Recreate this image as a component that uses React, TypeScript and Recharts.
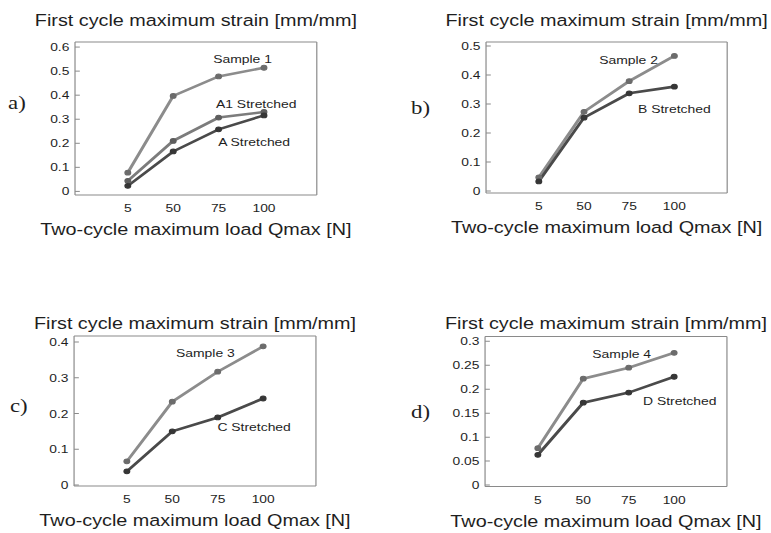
import { LineChart, Line, XAxis, YAxis, LabelList } from "recharts";

// x categories (load, N)
const loads = ["5", "50", "75", "100"];

// first cycle maximum strain [mm/mm]
const sample1 = [0.078, 0.397, 0.478, 0.514];
const a1Stretched = [0.044, 0.21, 0.307, 0.33];
const aStretched = [0.023, 0.166, 0.258, 0.316];

const sample2 = [0.047, 0.273, 0.379, 0.466];
const bStretched = [0.033, 0.253, 0.337, 0.36];

const sample3 = [0.066, 0.233, 0.317, 0.388];
const cStretched = [0.038, 0.15, 0.189, 0.242];

const sample4 = [0.077, 0.222, 0.245, 0.276];
const dStretched = [0.063, 0.172, 0.193, 0.226];

// y tick labels
const ticksA = [0, 0.1, 0.2, 0.3, 0.4, 0.5, 0.6];
const ticksB = [0, 0.1, 0.2, 0.3, 0.4, 0.5];
const ticksC = [0, 0.1, 0.2, 0.3, 0.4];
const ticksD = [0, 0.05, 0.1, 0.15, 0.2, 0.25, 0.3];
const minorB = [0, 0.02, 0.04, 0.06, 0.08, 0.1, 0.12, 0.14, 0.16, 0.18, 0.2, 0.22, 0.24, 0.26, 0.28, 0.3, 0.32, 0.34, 0.36, 0.38, 0.4, 0.42, 0.44, 0.46, 0.48, 0.5];
const minorC = [0, 0.02, 0.04, 0.06, 0.08, 0.1, 0.12, 0.14, 0.16, 0.18, 0.2, 0.22, 0.24, 0.26, 0.28, 0.3, 0.32, 0.34, 0.36, 0.38, 0.4];

const yTitle = "First cycle maximum strain [mm/mm]";
const xTitle = "Two-cycle maximum load Qmax [N]";

const sans = "'Liberation Sans', Arial, Helvetica, sans-serif";
const serif = "'Liberation Serif', 'Times New Roman', serif";
const ink = "#1e1e1e";
const frame = "#8a8a8a";
const light = "#8c8c8c";
const mid = "#7c7c7c";
const dark = "#4a4a4a";

// the source figure is stretched horizontally, so draw narrow and scale
const STRETCH = 1.2;
const XAXIS_H = 30;
const THIN = 0.01; // axes of (almost) no size, they only draw the frame and ticks

const tag = (text: string, dx: number, dy: number) => (p: any) => {
  if (p.index !== 3) return null;
  const x = p.x ?? p.viewBox?.x;
  const y = p.y ?? p.viewBox?.y;
  return (
    <text x={x + dx} y={y + dy} textAnchor="middle" dominantBaseline="central" fill={ink} fontSize={11.6} fontFamily={sans}>
      {text}
    </text>
  );
};

const panels = [
  {
    letter: "a)", left: 0, top: 0, height: 266,
    margin: { top: 42, left: 62.5, right: 57, bottom: 71 - XAXIS_H },
    domain: [-0.015, 0.621], ticks: ticksA, minor: null as number[] | null,
    letterPos: [-55.8, -15.5], titleGap: 16,
    series: [
      { key: "s1", values: sample1, color: light, dotColor: "#6c6c6c", label: "Sample 1", at: [-17.9, -8.4] },
      { key: "a1", values: a1Stretched, color: mid, dotColor: "#5e5e5e", label: "A1 Stretched", at: [-6.5, -7.7] },
      { key: "a", values: aStretched, color: dark, dotColor: "#363636", label: "A Stretched", at: [-8.2, 26.8] },
    ],
  },
  {
    letter: "b)", left: 321, top: 0, height: 266,
    margin: { top: 42, left: 84, right: 36, bottom: 73 - XAXIS_H },
    domain: [-0.007, 0.514], ticks: ticksB, minor: minorB,
    letterPos: [-62.5, -9.5], titleGap: 16,
    series: [
      { key: "s2", values: sample2, color: light, dotColor: "#6c6c6c", label: "Sample 2", at: [-38.2, 4.1] },
      { key: "b", values: bStretched, color: dark, dotColor: "#363636", label: "B Stretched", at: [0, 22.1] },
    ],
  },
  {
    letter: "c)", left: 0, top: 266, height: 267,
    margin: { top: 70, left: 61.7, right: 57.7, bottom: 47 - XAXIS_H },
    domain: [-0.003, 0.417], ticks: ticksC, minor: minorC,
    letterPos: [-53.4, -5], titleGap: 7,
    series: [
      { key: "s3", values: sample3, color: light, dotColor: "#6c6c6c", label: "Sample 3", at: [-48.1, 6.5] },
      { key: "c", values: cStretched, color: dark, dotColor: "#363636", label: "C Stretched", at: [-7.5, 28.4] },
    ],
  },
  {
    letter: "d)", left: 321, top: 266, height: 267,
    margin: { top: 70.5, left: 83.2, right: 36.2, bottom: 46.5 - XAXIS_H },
    domain: [-0.003, 0.31], ticks: ticksD, minor: null as number[] | null,
    letterPos: [-61.7, 0], titleGap: 7,
    series: [
      { key: "s4", values: sample4, color: light, dotColor: "#6c6c6c", label: "Sample 4", at: [-43.7, 0.9] },
      { key: "d", values: dStretched, color: dark, dotColor: "#363636", label: "D Stretched", at: [4.7, 23.9] },
    ],
  },
];

function Panel({ cfg }: { cfg: (typeof panels)[number] }) {
  const rows = loads.map((load, i) => {
    const row: Record<string, string | number> = { load };
    cfg.series.forEach((s) => {
      row[s.key] = s.values[i];
    });
    return row;
  });
  const m = cfg.margin;
  const plotH = cfg.height - m.top - m.bottom - XAXIS_H;
  const tickFont = { fill: ink, fontSize: 11.5, fontFamily: sans };

  return (
    <div style={{ position: "absolute", left: cfg.left, top: cfg.top }}>
      <LineChart width={321} height={cfg.height} data={rows} margin={m}>
        <XAxis
          xAxisId="bottom"
          dataKey="load"
          height={XAXIS_H}
          padding={{ left: 44, right: 44 }}
          stroke={frame}
          tickLine={false}
          tickSize={0}
          tickMargin={9}
          tick={tickFont}
          interval={0}
          label={{ value: xTitle, position: "bottom", offset: -1.4, fill: ink, fontSize: 16.5, fontFamily: sans }}
        />
        <XAxis
          xAxisId="top"
          dataKey="load"
          orientation="top"
          height={THIN}
          padding={{ left: 44, right: 44 }}
          stroke={frame}
          tick={false}
          tickLine={false}
          label={{ value: yTitle, position: "top", offset: cfg.titleGap, fill: ink, fontSize: 16.5, fontFamily: sans }}
        />
        <YAxis
          yAxisId="left"
          type="number"
          width={THIN}
          domain={cfg.domain}
          allowDataOverflow
          ticks={cfg.ticks}
          interval={0}
          stroke={frame}
          tickSize={-4}
          tickMargin={8.7}
          tick={tickFont}
          label={{
            content: () => (
              <text
                x={m.left + cfg.letterPos[0]}
                y={m.top + plotH / 2 + cfg.letterPos[1]}
                dominantBaseline="central"
                fill={ink}
                fontSize={19}
                fontFamily={serif}
              >
                {cfg.letter}
              </text>
            ),
          }}
        />
        <YAxis
          yAxisId="right"
          orientation="right"
          type="number"
          width={THIN}
          domain={cfg.domain}
          allowDataOverflow
          ticks={cfg.ticks}
          interval={0}
          stroke={frame}
          tickSize={-4}
          tick={false}
        />
        {cfg.minor && (
          <YAxis
            yAxisId="minorL"
            type="number"
            width={THIN}
            domain={cfg.domain}
            allowDataOverflow
            ticks={cfg.minor}
            interval={0}
            stroke={frame}
            axisLine={false}
            tickSize={-2}
            tick={false}
          />
        )}
        {cfg.minor && (
          <YAxis
            yAxisId="minorR"
            orientation="right"
            type="number"
            width={THIN}
            domain={cfg.domain}
            allowDataOverflow
            ticks={cfg.minor}
            interval={0}
            stroke={frame}
            axisLine={false}
            tickSize={-2}
            tick={false}
          />
        )}
        {cfg.series.map((s) => (
          <Line
            key={s.key}
            xAxisId="bottom"
            yAxisId="left"
            dataKey={s.key}
            stroke={s.color}
            strokeWidth={2.6}
            dot={{ r: 2.4, fill: s.dotColor, stroke: s.dotColor, strokeWidth: 1 }}
            activeDot={false}
            isAnimationActive={false}
          >
            <LabelList dataKey={s.key} content={tag(s.label, s.at[0], s.at[1])} />
          </Line>
        ))}
      </LineChart>
    </div>
  );
}

export default function App() {
  return (
    <div style={{ position: "absolute", left: 0, top: 0, width: 771, height: 533, background: "#fff", overflow: "hidden" }}>
      <div
        style={{
          position: "absolute",
          left: 0,
          top: 0,
          width: 771 / STRETCH,
          height: 533,
          transform: `scaleX(${STRETCH})`,
          transformOrigin: "0 0",
        }}
      >
        {panels.map((p) => (
          <Panel key={p.letter} cfg={p} />
        ))}
      </div>
    </div>
  );
}
